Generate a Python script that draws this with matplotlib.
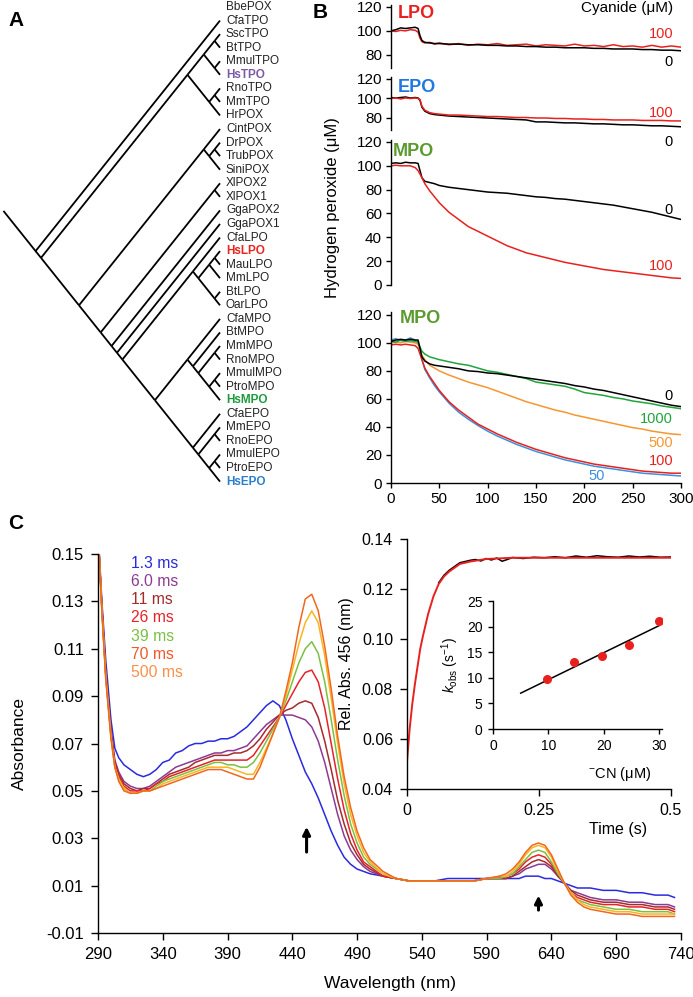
import matplotlib
matplotlib.use("Agg")
import matplotlib.pyplot as plt

plt.rcParams['font.family'] = ['Liberation Sans', 'DejaVu Sans']
plt.rcParams['axes.unicode_minus'] = False
plt.rcParams['mathtext.fontset'] = 'custom'
plt.rcParams['mathtext.rm'] = 'Liberation Sans'
plt.rcParams['mathtext.it'] = 'Liberation Sans:italic'

# ---------------- data ----------------
# panel A: leaf labels (top to bottom) and tree topology
leaf_names = ["BbePOX", "CfaTPO", "SscTPO", "BtTPO", "MmulTPO", "HsTPO", "RnoTPO", "MmTPO",
              "HrPOX", "CintPOX", "DrPOX", "TrubPOX", "SiniPOX", "XlPOX2", "XlPOX1", "GgaPOX2",
              "GgaPOX1", "CfaLPO", "HsLPO", "MauLPO", "MmLPO", "BtLPO", "OarLPO", "CfaMPO",
              "BtMPO", "MmMPO", "RnoMPO", "MmulMPO", "PtroMPO", "HsMPO", "CfaEPO", "MmEPO",
              "RnoEPO", "MmulEPO", "PtroEPO", "HsEPO"]
leaf_colors = {"HsTPO": "#7b5aa6", "HsLPO": "#e8251f", "HsMPO": "#1e9a3c", "HsEPO": "#2a7ed0"}
tree = ("CfaTPO",
        (((("SscTPO", "BtTPO"), ("MmulTPO", "HsTPO")), (("RnoTPO", "MmTPO"), "HrPOX")),
         (("CintPOX", (("DrPOX", "TrubPOX"), "SiniPOX")),
          (("XlPOX2", "XlPOX1"),
           ("GgaPOX2",
            ("GgaPOX1",
             (("CfaLPO", ((("HsLPO", "MauLPO"), "MmLPO"), ("BtLPO", "OarLPO"))),
              (("CfaMPO", ("BtMPO", (("MmMPO", "RnoMPO"), (("MmulMPO", "PtroMPO"), "HsMPO")))),
               ("CfaEPO", (("MmEPO", "RnoEPO"), (("MmulEPO", "PtroEPO"), "HsEPO")))))))))))

# panel B: time (s) and hydrogen peroxide (uM)
t_b = [0, 5, 10, 15, 20, 25, 28, 30, 32, 35, 40, 45, 50, 60, 70, 80, 90, 100, 110, 120, 130,
       140, 150, 160, 170, 180, 190, 200, 210, 220, 230, 240, 250, 260, 270, 280, 290, 300]
lpo_0 = [100, 101, 102.5, 102, 102.5, 103, 102, 96, 92, 90.5, 90, 89.5, 89.5, 89, 89, 88.5, 88.5,
         88, 88, 87.5, 87.5, 87, 87, 86.5, 86.5, 86, 86, 86, 85.5, 85.5, 85, 85, 85, 84.5, 84.5,
         84, 84, 83.5]
lpo_100 = [100, 99.5, 100.5, 100, 101, 100.5, 99, 94, 91, 90, 90.5, 89, 90, 88.5, 89.5, 88, 89,
           88.5, 89.5, 88, 88.5, 89, 87.5, 88.5, 88, 87.5, 89, 87.5, 88, 87, 88.5, 87, 87.5, 86.5,
           88, 86.5, 87.5, 86.5]
epo_0 = [101, 100.5, 101, 101.5, 100.5, 101, 100.5, 98, 91, 87, 84.5, 83.5, 83, 82, 81.5, 81, 80.5,
         80, 79.5, 79, 78.5, 78, 76, 76, 75.5, 75, 75, 74.5, 74, 74, 73.5, 73, 73, 72.5, 72, 72,
         71.5, 71]
epo_100 = [100, 100.5, 99.5, 100.5, 100, 100.5, 100, 99, 92, 88, 85.5, 84.5, 84, 83, 83, 82.5, 82,
           81.5, 81.5, 81, 80.5, 80.5, 80, 80, 79.5, 79.5, 79, 79, 78.5, 78.5, 78, 78, 78, 77.5,
           77.5, 77.5, 77, 77]
mpo_0 = [102, 102.5, 102, 103, 102.5, 102.5, 102, 96, 90, 87, 86, 85, 83.5, 82, 81, 80, 79, 78,
         77.5, 77, 76, 75, 74, 73.5, 72.5, 72, 71, 70, 69, 68, 67, 65.5, 64, 62.5, 61, 59, 57, 55]
mpo_100 = [100, 100.5, 100, 100, 100, 98.5, 96, 93, 90, 85, 79, 74, 69, 61, 55, 49, 45, 41, 37, 33,
           30, 27, 25, 23, 21, 19, 17.5, 16, 14.5, 13, 12, 11, 10, 9, 8, 7, 6, 5.5]
cn_0 = [101, 102, 102.5, 102, 102.5, 102, 102, 96, 90, 87, 85, 84, 83.5, 82.5, 81.5, 80, 79.5, 78.5,
        78, 77, 76, 75, 74, 73, 72, 71, 69.5, 68.5, 67, 66, 64.5, 63, 61.5, 60, 58.5, 57, 55.5, 54.5]
cn_50 = [102, 103, 101.5, 102, 103.5, 102, 100, 94, 88, 81, 75, 69.5, 65, 57, 50.5, 45.5, 41, 37,
         33.5, 30.5, 27.5, 25, 22.5, 20.5, 18.5, 16.5, 15, 13.5, 12, 11, 10, 9, 8, 7, 6.5, 6, 5.5, 5]
cn_100 = [98.5, 99, 98.5, 99, 98.5, 98, 96, 92, 88, 82, 76, 71, 66, 58, 52, 47, 42, 38.5, 35, 32,
          29, 26.5, 24, 22, 20, 18, 16.5, 15, 13.5, 12.5, 11.5, 10.5, 9.5, 8.5, 8, 7.5, 7, 7]
cn_500 = [100, 100.5, 100, 101, 100.5, 100, 99, 95, 91, 88, 84, 82, 80, 77, 74.5, 72, 70, 68, 65.5,
          63, 60.5, 58, 56, 54, 52, 50.5, 48.5, 47, 45.5, 44, 42.5, 41, 39.5, 38.5, 37, 36, 35, 34.5]
cn_1000 = [101, 100.5, 102, 101, 101.5, 101, 100.5, 97, 94, 92, 90, 89, 88, 86.5, 85, 84, 82, 80,
           79, 77.5, 76, 74.5, 72, 71, 70, 69, 67, 64.5, 63.5, 62.5, 61, 60, 58.5, 57.5, 56.5, 55,
           54, 53]

# panel C: spectra
wl = [290, 293, 296, 300, 303, 306, 310, 315, 320, 325, 330, 335, 340, 345, 350, 355, 360, 365,
      370, 375, 380, 385, 390, 395, 400, 405, 410, 415, 420, 425, 430, 435, 440, 445, 450, 455,
      460, 465, 470, 475, 480, 485, 490, 495, 500, 510, 520, 530, 540, 550, 560, 570, 580, 590,
      600, 605, 610, 615, 620, 625, 630, 635, 640, 645, 650, 655, 660, 665, 670, 680, 690, 700,
      710, 720, 730, 735]
abs_1_3 = [0.160, 0.130, 0.105, 0.080, 0.068, 0.064, 0.061, 0.059, 0.057, 0.056, 0.057, 0.059,
           0.062, 0.063, 0.066, 0.067, 0.069, 0.070, 0.070, 0.071, 0.071, 0.072, 0.072, 0.073,
           0.075, 0.077, 0.080, 0.083, 0.086, 0.088, 0.086, 0.080, 0.072, 0.065, 0.058, 0.053,
           0.047, 0.040, 0.033, 0.027, 0.022, 0.019, 0.017, 0.016, 0.015, 0.014, 0.013, 0.012,
           0.012, 0.012, 0.013, 0.013, 0.013, 0.013, 0.013, 0.013, 0.013, 0.013, 0.014, 0.014,
           0.014, 0.013, 0.013, 0.012, 0.011, 0.010, 0.009, 0.009, 0.009, 0.008, 0.008, 0.007,
           0.007, 0.006, 0.006, 0.005]
abs_6_0 = [0.160, 0.128, 0.100, 0.076, 0.063, 0.058, 0.054, 0.052, 0.051, 0.051, 0.052, 0.054,
           0.056, 0.058, 0.060, 0.061, 0.062, 0.063, 0.064, 0.065, 0.066, 0.066, 0.067, 0.067,
           0.068, 0.069, 0.072, 0.075, 0.078, 0.080, 0.082, 0.082, 0.082, 0.081, 0.080, 0.077,
           0.071, 0.062, 0.051, 0.040, 0.031, 0.025, 0.021, 0.018, 0.016, 0.014, 0.013, 0.012,
           0.012, 0.012, 0.012, 0.012, 0.012, 0.013, 0.013, 0.013, 0.014, 0.015, 0.017, 0.018,
           0.019, 0.019, 0.017, 0.014, 0.011, 0.008, 0.007, 0.006, 0.005, 0.004, 0.004, 0.003,
           0.003, 0.002, 0.002, 0.001]
abs_11 = [0.160, 0.127, 0.099, 0.075, 0.062, 0.057, 0.053, 0.051, 0.050, 0.051, 0.051, 0.053,
          0.055, 0.057, 0.058, 0.059, 0.060, 0.062, 0.063, 0.064, 0.065, 0.065, 0.065, 0.066,
          0.066, 0.067, 0.069, 0.072, 0.076, 0.079, 0.082, 0.084, 0.085, 0.087, 0.088, 0.087,
          0.081, 0.071, 0.059, 0.046, 0.036, 0.028, 0.023, 0.019, 0.017, 0.014, 0.013, 0.012,
          0.012, 0.012, 0.012, 0.012, 0.012, 0.013, 0.013, 0.013, 0.014, 0.016, 0.018, 0.020,
          0.021, 0.020, 0.018, 0.014, 0.011, 0.008, 0.006, 0.005, 0.004, 0.003, 0.003, 0.002,
          0.002, 0.001, 0.001, 0.000]
abs_26 = [0.160, 0.127, 0.099, 0.074, 0.061, 0.056, 0.052, 0.050, 0.050, 0.050, 0.051, 0.053,
          0.054, 0.056, 0.057, 0.058, 0.059, 0.060, 0.061, 0.062, 0.063, 0.063, 0.063, 0.063,
          0.063, 0.063, 0.065, 0.069, 0.073, 0.077, 0.081, 0.086, 0.091, 0.096, 0.100, 0.101,
          0.096, 0.085, 0.070, 0.055, 0.042, 0.032, 0.025, 0.020, 0.018, 0.014, 0.013, 0.012,
          0.012, 0.012, 0.012, 0.012, 0.012, 0.013, 0.013, 0.014, 0.015, 0.017, 0.020, 0.022,
          0.023, 0.022, 0.019, 0.015, 0.011, 0.007, 0.005, 0.004, 0.003, 0.002, 0.002, 0.001,
          0.001, 0.000, 0.000, -0.001]
abs_39 = [0.160, 0.126, 0.098, 0.073, 0.060, 0.055, 0.051, 0.049, 0.049, 0.050, 0.050, 0.052,
          0.054, 0.055, 0.056, 0.057, 0.058, 0.059, 0.060, 0.061, 0.062, 0.062, 0.061, 0.061,
          0.060, 0.060, 0.062, 0.066, 0.071, 0.076, 0.081, 0.088, 0.096, 0.104, 0.110, 0.113,
          0.108, 0.096, 0.080, 0.063, 0.048, 0.036, 0.028, 0.022, 0.019, 0.015, 0.013, 0.012,
          0.012, 0.012, 0.012, 0.012, 0.012, 0.013, 0.013, 0.014, 0.015, 0.018, 0.021, 0.024,
          0.025, 0.024, 0.020, 0.015, 0.011, 0.007, 0.004, 0.003, 0.002, 0.001, 0.000, 0.000,
          -0.001, -0.001, -0.001, -0.002]
abs_70 = [0.160, 0.126, 0.098, 0.073, 0.060, 0.055, 0.051, 0.049, 0.049, 0.050, 0.050, 0.051,
          0.053, 0.054, 0.055, 0.056, 0.057, 0.058, 0.059, 0.060, 0.060, 0.060, 0.060, 0.059,
          0.058, 0.057, 0.057, 0.062, 0.068, 0.074, 0.081, 0.090, 0.101, 0.112, 0.121, 0.126,
          0.121, 0.107, 0.089, 0.070, 0.053, 0.040, 0.031, 0.024, 0.020, 0.015, 0.013, 0.012,
          0.012, 0.012, 0.012, 0.012, 0.012, 0.013, 0.014, 0.014, 0.016, 0.019, 0.023, 0.026,
          0.027, 0.026, 0.022, 0.016, 0.011, 0.007, 0.004, 0.002, 0.001, 0.000, -0.001, -0.001,
          -0.002, -0.002, -0.002, -0.002]
abs_500 = [0.160, 0.126, 0.097, 0.072, 0.060, 0.054, 0.050, 0.049, 0.049, 0.050, 0.050, 0.051,
           0.052, 0.053, 0.054, 0.055, 0.056, 0.057, 0.058, 0.059, 0.059, 0.059, 0.058, 0.057,
           0.056, 0.055, 0.055, 0.060, 0.067, 0.074, 0.081, 0.092, 0.104, 0.119, 0.131, 0.133,
           0.126, 0.111, 0.093, 0.073, 0.056, 0.043, 0.033, 0.026, 0.021, 0.016, 0.013, 0.012,
           0.012, 0.012, 0.012, 0.012, 0.012, 0.013, 0.014, 0.015, 0.017, 0.020, 0.024, 0.027,
           0.028, 0.027, 0.023, 0.017, 0.011, 0.006, 0.003, 0.001, 0.000, -0.001, -0.002, -0.002,
           -0.003, -0.003, -0.003, -0.003]
spec_labels = ["1.3 ms", "6.0 ms", "11 ms", "26 ms", "39 ms", "70 ms", "500 ms"]
arrow_wl = [451, 630]
arrow_from = [0.023, -0.0015]
arrow_to = [0.036, 0.007]

# panel C inset: absorbance at 456 nm vs time
t_fit = [0, 0.005, 0.01, 0.015, 0.02, 0.025, 0.03, 0.04, 0.05, 0.06, 0.07, 0.08, 0.1, 0.12,
         0.15, 0.2, 0.3, 0.4, 0.5]
a_fit = [0.051, 0.064, 0.074, 0.082, 0.089, 0.096, 0.101, 0.110, 0.117, 0.122, 0.125, 0.127,
         0.130, 0.131, 0.132, 0.1325, 0.1325, 0.1325, 0.1325]
t_obs = [0.06, 0.07, 0.08, 0.09, 0.1, 0.11, 0.12, 0.13, 0.14, 0.15, 0.16, 0.17, 0.18, 0.19,
         0.2, 0.22, 0.24, 0.26, 0.28, 0.3, 0.32, 0.34, 0.36, 0.38, 0.4, 0.42, 0.44, 0.46, 0.48, 0.5]
a_obs = [0.1225, 0.1255, 0.1275, 0.129, 0.1305, 0.131, 0.1315, 0.1318, 0.1312, 0.1322, 0.1316,
         0.1324, 0.1311, 0.1318, 0.1326, 0.1322, 0.1327, 0.1325, 0.1329, 0.1325, 0.1332, 0.1327,
         0.1333, 0.1329, 0.1327, 0.1332, 0.1328, 0.1331, 0.1327, 0.1328]

# nested inset: kobs vs cyanide
cn_conc = [9.8, 14.7, 19.6, 24.5, 30]
kobs = [9.7, 13.0, 14.3, 16.5, 21.0]
kfit_x = [5, 30]
kfit_y = [7.0, 20.2]

# ---------------- figure ----------------
W, H = 693, 997
fig = plt.figure(figsize=(W / 100, H / 100), dpi=100)
base = fig.add_axes([0, 0, 1, 1], facecolor='none')
base.set_xlim(0, W)
base.set_ylim(H, 0)
base.axis('off')


def px_axes(x0, x1, y0, y1):
    return fig.add_axes([x0 / W, 1 - y1 / H, (x1 - x0) / W, (y1 - y0) / H], facecolor='none')


def style(ax, fs, bottom=True):
    ax.spines['top'].set_visible(False)
    ax.spines['right'].set_visible(False)
    for s in ['left', 'bottom']:
        ax.spines[s].set_linewidth(1.0)
    ax.tick_params(direction='out', length=3.5, width=1.0, labelsize=fs, pad=3)
    if not bottom:
        ax.spines['bottom'].set_visible(False)
        ax.set_xticks([])


# ---- panel A: slanted cladogram ----
tip_x = 220
slope = 1.25
leaf_y = {n: 7 + i * 13.56 for i, n in enumerate(leaf_names)}


def draw(node):
    if isinstance(node, str):
        y = leaf_y[node]
        return tip_x, y, y, y
    kids = [draw(c) for c in node]
    ymin = min(k[2] for k in kids)
    ymax = max(k[3] for k in kids)
    x = tip_x - (ymax - ymin) / (2 * slope)
    y = (ymin + ymax) / 2
    for kx, ky, _, _ in kids:
        base.plot([x, kx], [y, ky], color='black', lw=1.3, solid_capstyle='butt')
    return x, y, ymin, ymax


rx, ry, _, _ = draw(tree)
stub_x = 4
base.plot([stub_x, rx], [ry - (rx - stub_x) * slope, ry], color='black', lw=1.3)

for n in leaf_names:
    c = leaf_colors.get(n, '#222222')
    base.text(226, leaf_y[n], n, fontsize=8.5, color=c, va='center', ha='left',
              fontweight='bold' if n in leaf_colors else 'normal')

base.text(8, 20, "A", fontsize=15, fontweight='bold', va='center')
base.text(313, 13, "B", fontsize=15, fontweight='bold', va='center')
base.text(8, 523, "C", fontsize=15, fontweight='bold', va='center')

# ---- panel B ----
red = '#e8211f'
bx0, bx1 = 391, 681
b1 = px_axes(bx0, bx1, 5, 68)
b2 = px_axes(bx0, bx1, 77.5, 130)
b3 = px_axes(bx0, bx1, 139.6, 285)
b4 = px_axes(bx0, bx1, 312, 483)
b1.set_ylim(69.2, 121.5)
b2.set_ylim(67.7, 121.5)
b3.set_ylim(0, 122)
b4.set_ylim(0, 122)
for ax in (b1, b2, b3, b4):
    ax.set_xlim(0, 300)
for ax in (b1, b2):
    ax.set_yticks([80, 100, 120])
for ax in (b3, b4):
    ax.set_yticks(range(0, 121, 20))
b4.set_xticks(range(0, 301, 50))
style(b1, 11, bottom=False)
style(b2, 11, bottom=False)
style(b3, 11, bottom=False)
style(b4, 11)

lw_b = 1.1
b1.plot(t_b, lpo_100, color=red, lw=lw_b)
b1.plot(t_b, lpo_0, color='black', lw=lw_b)
b2.plot(t_b, epo_0, color='black', lw=lw_b)
b2.plot(t_b, epo_100, color=red, lw=lw_b)
b3.plot(t_b, mpo_0, color='black', lw=lw_b)
b3.plot(t_b, mpo_100, color=red, lw=lw_b)
b4.plot(t_b, cn_50, color='#3f8fdc', lw=lw_b)
b4.plot(t_b, cn_100, color=red, lw=lw_b)
b4.plot(t_b, cn_500, color='#f7962f', lw=lw_b)
b4.plot(t_b, cn_1000, color='#1fa53c', lw=lw_b)
b4.plot(t_b, cn_0, color='black', lw=lw_b)

base.text(398, 14, "LPO", color=red, fontsize=13, fontweight='bold', va='center')
base.text(398, 87, "EPO", color='#1e78e0', fontsize=13, fontweight='bold', va='center')
base.text(393, 152, "MPO", color='#5a9a2e', fontsize=13, fontweight='bold', va='center')
base.text(400, 318, "MPO", color='#5a9a2e', fontsize=13, fontweight='bold', va='center')
base.text(673, 8, "Cyanide (μM)", fontsize=11, ha='right', va='center')
base.text(332, 208, "Hydrogen peroxide (μM)", fontsize=12, rotation=90, ha='center', va='center')

for x, y, s, c in [(673, 34, "100", red), (673, 62, "0", 'black'),
                   (673, 113, "100", red), (673, 142, "0", 'black'),
                   (673, 210, "0", 'black'), (673, 266, "100", red),
                   (673, 396, "0", 'black'), (673, 419, "1000", '#1fa53c'),
                   (673, 443, "500", '#f7962f'), (673, 461, "100", red),
                   (605, 476, "50", '#3f8fdc')]:
    base.text(x, y, s, color=c, fontsize=10.5, ha='right', va='center')

# ---- panel C: spectra ----
c_ax = px_axes(98, 681, 554, 933)
c_ax.set_xlim(290, 740)
c_ax.set_ylim(-0.01, 0.15)
c_ax.set_xticks(range(290, 741, 50))
c_ax.set_yticks([-0.01, 0.01, 0.03, 0.05, 0.07, 0.09, 0.11, 0.13, 0.15])
c_ax.set_yticklabels(["-0.01", "0.01", "0.03", "0.05", "0.07", "0.09", "0.11", "0.13", "0.15"])
style(c_ax, 12)
c_ax.tick_params(length=5, pad=5)
c_ax.set_xlabel("Wavelength (nm)", fontsize=12.5, labelpad=10)
c_ax.set_ylabel("Absorbance", fontsize=12.5, labelpad=14)

spectra = [abs_1_3, abs_6_0, abs_11, abs_26, abs_39, abs_70, abs_500]
line_cols = ['#2a2ae0', '#8e3a92', '#a32c2c', '#e8212b', '#7ac143', '#f9b520', '#f2661f']
text_cols = ['#2a2ae0', '#8e3a92', '#a32c2c', '#e8212b', '#7ac143', '#f0592a', '#f7914d']
for sp, col in zip(spectra, line_cols):
    c_ax.plot(wl, sp, color=col, lw=1.1)
for i, (lab, col) in enumerate(zip(spec_labels, text_cols)):
    base.text(131, 563 + i * 18.3, lab, color=col, fontsize=11.3, va='center')

for x, y0, y1 in zip(arrow_wl, arrow_from, arrow_to):
    c_ax.annotate("", xy=(x, y1), xytext=(x, y0),
                  arrowprops=dict(arrowstyle="-|>", color='black', lw=2.2, mutation_scale=11))

# ---- inset: Rel. Abs. 456 ----
i_ax = px_axes(407, 671, 539, 789)
i_ax.set_xlim(0, 0.5)
i_ax.set_ylim(0.04, 0.14)
i_ax.set_xticks([0, 0.25, 0.5])
i_ax.set_xticklabels(["0", "0.25", "0.5"])
i_ax.set_yticks([0.04, 0.06, 0.08, 0.10, 0.12, 0.14])
i_ax.set_yticklabels(["0.04", "0.06", "0.08", "0.10", "0.12", "0.14"])
style(i_ax, 11.5)
i_ax.tick_params(length=5, pad=5)
i_ax.plot(t_obs, a_obs, color='black', lw=1.1)
i_ax.plot(t_fit, a_fit, color='#e8211f', lw=1.4)
i_ax.set_xlabel("Time (s)", fontsize=11.5, labelpad=3, x=0.8)
i_ax.set_ylabel("Rel. Abs. 456 (nm)", fontsize=11.5, labelpad=6)

# ---- nested inset: kobs ----
k_ax = px_axes(493, 662, 601, 729)
k_ax.set_xlim(0, 30.5)
k_ax.set_ylim(0, 25)
k_ax.set_xticks([0, 10, 20, 30])
k_ax.set_yticks(range(0, 26, 5))
style(k_ax, 10)
k_ax.tick_params(length=3.5, pad=4)
k_ax.plot(kfit_x, kfit_y, color='black', lw=1.1)
k_ax.plot(cn_conc, kobs, 'o', color='#e8211f', ms=5.5, mec='#e8211f')
k_ax.set_ylabel(r"$k_{\mathrm{obs}}$ (s$^{-1}$)", fontsize=10, labelpad=4)
k_ax.set_xlabel(r"$^{-}$CN (μM)", fontsize=10.5, labelpad=8, x=0.75)

fig.savefig("out.png", dpi=100)
